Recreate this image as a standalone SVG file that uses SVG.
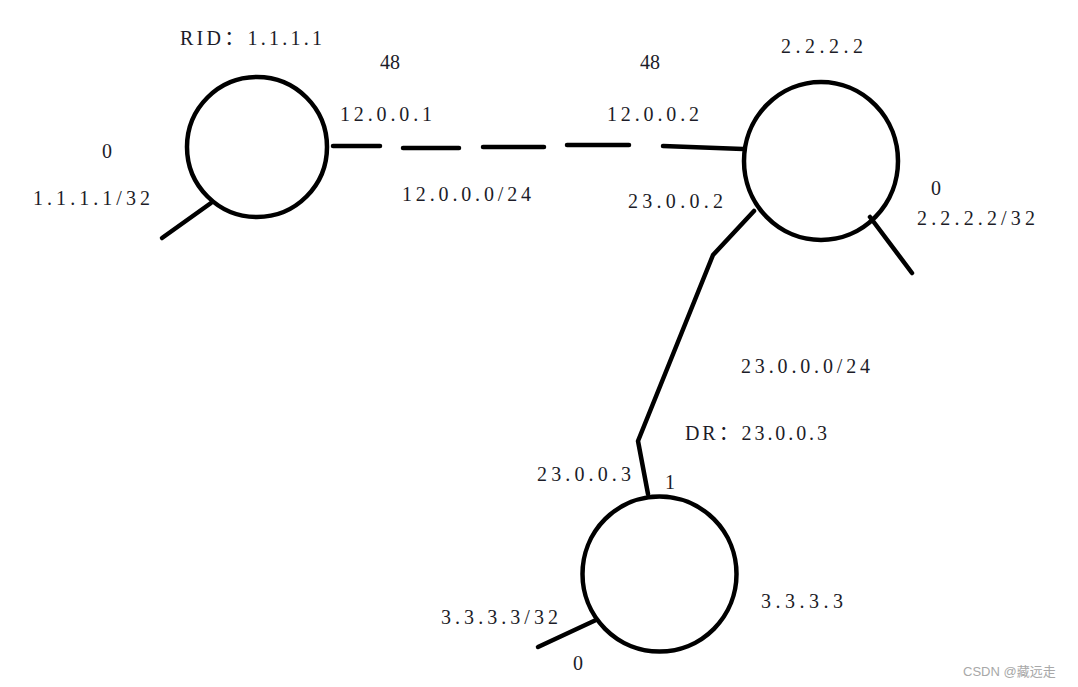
<svg xmlns="http://www.w3.org/2000/svg" width="1078" height="687" viewBox="0 0 1078 687">
<style>
.t{font-family:"Liberation Serif","Noto Sans CJK SC",serif;font-size:20px;fill:#1c1c28}
.n{fill:none;stroke:#000;stroke-width:4.5}
.l{fill:none;stroke:#000;stroke-width:4.5;stroke-linecap:round;stroke-linejoin:round}
.w{font-family:"Liberation Sans","Noto Sans CJK SC",sans-serif;font-size:13px;fill:#a8a8a8}
</style>
<rect width="1078" height="687" fill="#fff"/>
<g id="connectors">
<line class="l" x1="333" y1="146" x2="380" y2="146"/>
<line class="l" x1="403" y1="148" x2="459" y2="148"/>
<line class="l" x1="483" y1="147" x2="544" y2="147"/>
<line class="l" x1="567" y1="145" x2="629" y2="145"/>
<line class="l" x1="663" y1="146" x2="743" y2="149"/>
<polyline class="l" points="754,211 713,255 638,441 648,494"/>
<line class="l" x1="211" y1="203" x2="162" y2="238"/>
<line class="l" x1="870" y1="217" x2="912" y2="273"/>
<line class="l" x1="596" y1="620" x2="538" y2="647"/>
</g>
<g id="r1">
<circle class="n" cx="257" cy="147" r="70"/>
<text class="t" x="180" y="45" textLength="142" lengthAdjust="spacing">RID：1.1.1.1</text>
<text class="t" x="102" y="158">0</text>
<text class="t" x="33" y="205" textLength="117" lengthAdjust="spacing">1.1.1.1/32</text>
<text class="t" x="380" y="69">48</text>
<text class="t" x="340" y="121" textLength="92" lengthAdjust="spacing">12.0.0.1</text>
</g>
<g id="r2">
<ellipse class="n" cx="821" cy="161" rx="77" ry="79"/>
<text class="t" x="781" y="53" textLength="82" lengthAdjust="spacing">2.2.2.2</text>
<text class="t" x="640" y="69">48</text>
<text class="t" x="607" y="121" textLength="92" lengthAdjust="spacing">12.0.0.2</text>
<text class="t" x="628" y="208" textLength="95" lengthAdjust="spacing">23.0.0.2</text>
<text class="t" x="931" y="195">0</text>
<text class="t" x="917" y="225" textLength="118" lengthAdjust="spacing">2.2.2.2/32</text>
</g>
<g id="net12">
<text class="t" x="402" y="201" textLength="129" lengthAdjust="spacing">12.0.0.0/24</text>
</g>
<g id="net23">
<text class="t" x="741" y="373" textLength="129" lengthAdjust="spacing">23.0.0.0/24</text>
<text class="t" x="685" y="440" textLength="142" lengthAdjust="spacing">DR：23.0.0.3</text>
</g>
<g id="r3">
<ellipse class="n" cx="659.5" cy="574" rx="77" ry="77.5"/>
<text class="t" x="537" y="481" textLength="94" lengthAdjust="spacing">23.0.0.3</text>
<text class="t" x="665" y="489">1</text>
<text class="t" x="761" y="608" textLength="82" lengthAdjust="spacing">3.3.3.3</text>
<text class="t" x="441" y="624" textLength="117" lengthAdjust="spacing">3.3.3.3/32</text>
<text class="t" x="573" y="670">0</text>
</g>
<text class="w" x="963" y="676">CSDN @藏远走</text>
</svg>
